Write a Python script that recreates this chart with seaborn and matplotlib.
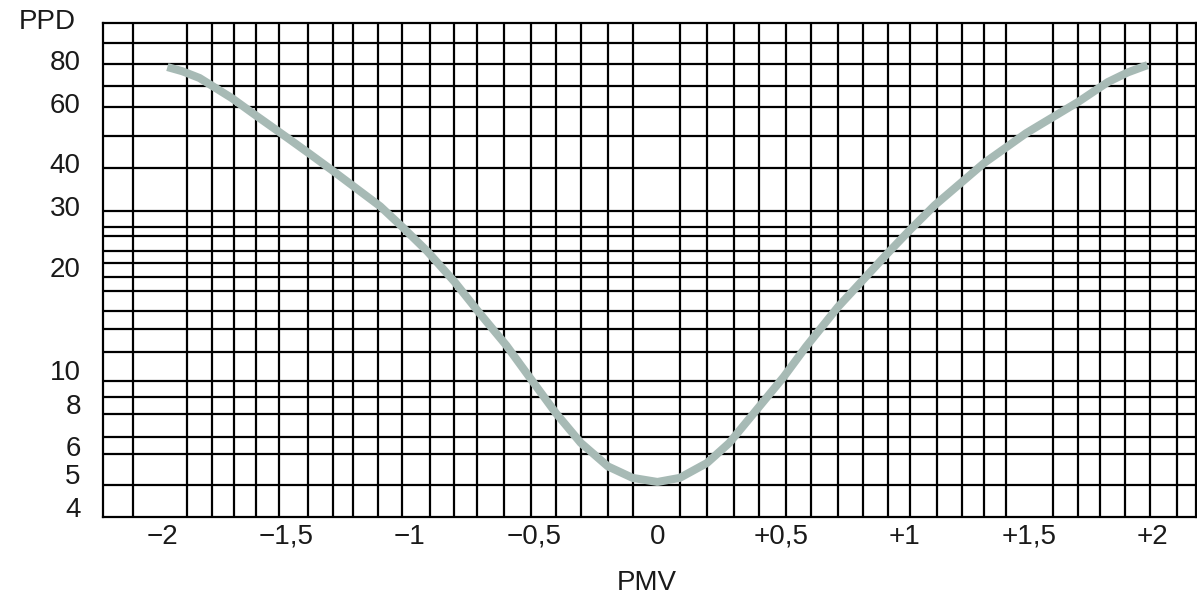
import seaborn as sns
import matplotlib.pyplot as plt
import pandas as pd

# curve (PMV -> PPD %)
pmv = [-1.98, -1.92, -1.85, -1.72, -1.62, -1.49, -1.41, -1.31, -1.12,
       -1.03, -0.93, -0.82, -0.72, -0.61, -0.51, -0.41, -0.31, -0.20, -0.10,
       0.00, 0.09, 0.20, 0.29, 0.40, 0.51, 0.60, 0.73, 0.83, 0.93,
       1.02, 1.12, 1.32, 1.49, 1.70, 1.82, 1.90, 1.98]
ppd = [76.3, 74.2, 70.9, 62.0, 55.0, 47.2, 42.9, 38.0, 30.0,
       26.1, 22.2, 18.1, 14.7, 11.8, 9.4, 7.5, 6.15, 5.25, 4.86,
       4.73, 4.86, 5.37, 6.14, 7.66, 9.56, 11.7, 15.3, 18.3, 21.9,
       25.6, 30.2, 40.1, 49.0, 60.4, 69.0, 73.6, 77.3]

x_ticks = [-2, -1.5, -1, -0.5, 0, 0.5, 1, 1.5, 2]
x_labels = ["\u22122", "\u22121,5", "\u22121", "\u22120,5", "0", "+0,5", "+1", "+1,5", "+2"]
y_ticks = [80, 60, 40, 30, 20, 10, 8, 6, 5, 4]
y_labels = ["80", "60", "40", "30", "20", "10", "8", "6", "5", "4"]

# the printed grid is not regular, so keep its lines as they appear
x_grid = [-2.12, -2.00, -1.90, -1.80, -1.71, -1.62, -1.53, -1.41, -1.31, -1.23,
          -1.13, -1.03, -0.92, -0.82, -0.73, -0.62, -0.51, -0.41, -0.31, -0.20,
          -0.10, 0.00, 0.09, 0.20, 0.31, 0.41, 0.52, 0.62, 0.73, 0.83,
          0.93, 1.02, 1.13, 1.23, 1.32, 1.41, 1.50, 1.60, 1.70, 1.79,
          1.89, 1.99, 2.10]
y_grid = [89.6, 77.9, 67.2, 58.4, 48.1, 38.8, 29.1, 26.1, 24.6, 22.2, 20.5,
          18.7, 17.0, 14.9, 13.2, 11.3, 9.3, 8.36, 7.46, 6.40, 5.71, 4.64]

sns.set_style("white")
plt.rcParams['font.family'] = ['Liberation Sans', 'DejaVu Sans']

df = pd.DataFrame({'PMV': pmv, 'PPD': ppd})

fig = plt.figure(figsize=(11.97, 5.95), dpi=100)
ax = fig.add_axes([103 / 1197, 78 / 595, 1093 / 1197, 494 / 595])

ax.set_yscale('log')
sns.lineplot(data=df, x='PMV', y='PPD', ax=ax, color='#a7bab5', linewidth=5.8,
             solid_capstyle='butt', zorder=3)

ax.set_xlim(-2.24, 2.176)
ax.set_ylim(3.74, 102.5)

ax.set_xticks(x_ticks)
ax.set_xticklabels(x_labels)
ax.set_yticks(y_ticks)
ax.set_yticklabels(y_labels)
ax.set_xticks(x_grid, minor=True)
ax.set_yticks(y_grid, minor=True)
ax.yaxis.set_minor_formatter(plt.NullFormatter())
ax.xaxis.set_minor_formatter(plt.NullFormatter())

ax.tick_params(which='both', length=0, labelsize=20, colors='#1a1a1a')
ax.tick_params(axis='y', pad=16)
ax.tick_params(axis='x', pad=5)

ax.grid(False, which='major')
ax.grid(True, which='minor', color='black', linewidth=1.6)
ax.set_axisbelow(True)

for s in ax.spines.values():
    s.set_color('black')
    s.set_linewidth(1.6)

ax.set_xlabel('')
ax.set_ylabel('')
fig.text(47 / 1197, 1 - 22 / 595, 'PPD', ha='center', va='center', fontsize=20, color='#1a1a1a')
fig.text(647 / 1197, 1 - 583 / 595, 'PMV', ha='center', va='center', fontsize=20, color='#1a1a1a')

fig.savefig('out.png', dpi=100)
